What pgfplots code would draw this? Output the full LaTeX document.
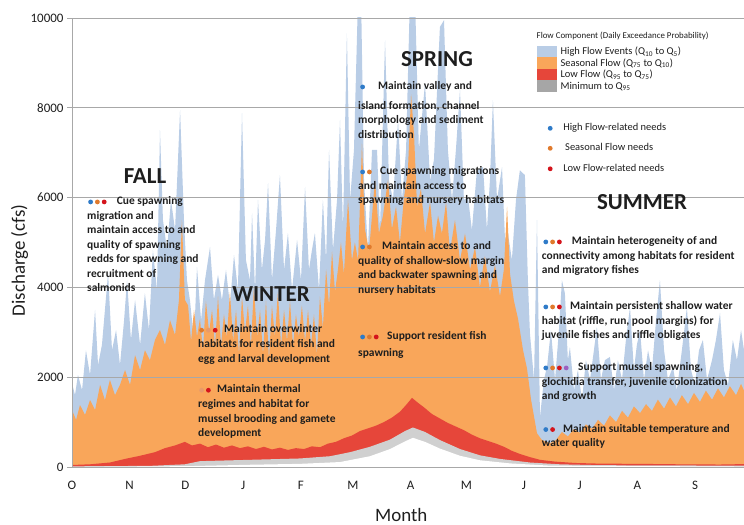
\documentclass[border=0pt]{standalone}
\usepackage{fontspec}
\setmainfont{Carlito}
\usepackage{pgfplots}
\pgfplotsset{compat=1.18}

\definecolor{hiflow}{HTML}{B9CDE6}
\definecolor{seas}{HTML}{F9A65A}
\definecolor{lowf}{HTML}{E6463A}
\definecolor{minq}{HTML}{D0D0D0}
\definecolor{minleg}{HTML}{A6A6A6}
\definecolor{gridc}{HTML}{A8A8A8}
\definecolor{txt}{HTML}{1E1E1E}
\definecolor{dotb}{HTML}{2F7BC8}
\definecolor{doto}{HTML}{E07A2C}
\definecolor{dotpe}{HTML}{E89A6A}
\definecolor{dotr}{HTML}{D4141C}
\definecolor{dotp}{HTML}{9C5FC0}

\newcommand{\dt}[1]{\tikz[baseline=-2.7bp]\fill[#1] (0,0) circle (2.4bp);\hspace{2bp}}
\newcommand{\annfont}{\fontsize{11.5}{14.6}\selectfont\bfseries}
\newcommand{\seasfont}{\fontsize{23}{26}\selectfont\bfseries}
\newcommand{\legfont}{\fontsize{10.5}{12}\selectfont}

\begin{document}
\begin{tikzpicture}
\begin{axis}[
    at={(72bp,58bp)}, anchor=south west,
    scale only axis, width=672bp, height=449bp,
    xmin=0, xmax=361.3, ymin=0, ymax=10000,
    axis on top,
    axis x line*=bottom, axis y line*=left,
    axis line style={-, draw=gridc, line width=0.8bp},
    ymajorgrids, grid style={draw=gridc, line width=0.7bp},
    ytick={0,2000,4000,6000,8000,10000},
    xtick={0,31,61,92,123,151,182,212,243,273,304,335},
    xticklabels={O,N,D,J,F,M,A,M,J,J,A,S},
    tick align=outside, major tick length=5bp,
    y tick style={draw=gridc, line width=0.7bp},
    x tick style={draw=none},
    tick label style={font=\fontsize{13}{15}\selectfont, text=txt},
    xticklabel style={yshift=-6bp},
    scaled y ticks=false,
    /pgf/number format/assume math mode=true,
    /pgf/number format/set thousands separator={},
    xlabel={Month}, ylabel={Discharge (cfs)},
    label style={font=\fontsize{19}{22}\selectfont, text=txt},
    xlabel style={at={(axis description cs:0.49,-0.106)}, anchor=center},
    ylabel style={at={(axis description cs:-0.078,0.46)}, anchor=center},
    legend style={at={(axis description cs:0.6912,0.939)}, anchor=north west,
        draw=none, fill=none, inner sep=0pt, row sep=0pt,
        font=\legfont, text=txt, nodes={inner sep=0.4bp},
        /tikz/every odd column/.append style={column sep=3.5bp}},
    legend image code/.code={\fill[#1,draw=none] (0bp,-5.8bp) rectangle (20bp,5.8bp);},
    legend cell align=left,
]
% High flow events (Q5)
\addplot[fill=hiflow, draw=none, forget plot] coordinates {
(0,1870) (1.6,1600) (3.2,2050) (5.4,1710) (7.5,2600) (9.7,2050) (12.4,3500) (14.0,2270)
(16.1,2720) (19.4,4320) (21.5,2600) (23.7,3050) (25.8,2270) (28.0,3270) (29.6,4160) (31.7,2830)
(33.9,3720) (36.6,2720) (39.2,3870) (41.4,3050) (43.5,4830) (45.7,3940) (47.3,7500) (48.9,5500)
(51.1,4830) (53.2,5950) (55.4,5280) (58.1,7950) (60.2,5500) (61.8,4160) (63.4,3720) (65.6,2830)
(67.2,4450) (69.4,3270) (71.5,4160) (74.2,4900) (76.3,3720) (78.5,4280) (80.6,3720) (82.8,4390)
(84.9,3610) (87.1,4720) (89.2,3940) (91.4,7880) (93.5,4610) (95.7,4160) (96.8,5650) (98.4,3940)
(100.0,5950) (102.1,4390) (103.8,5060) (105.4,6320) (107.5,4160) (109.7,5280) (111.8,6500) (114.0,4390)
(116.1,5210) (118.3,3940) (121.0,5060) (123.1,4160) (125.3,6240) (127.4,4390) (129.0,4830) (130.6,5210)
(132.8,3940) (134.9,5950) (136.6,4610) (138.2,7060) (140.3,4830) (142.5,5950) (144.1,7730) (145.7,5280)
(147.8,9660) (149.5,5950) (151.6,7060) (153.8,10500) (155.4,10500) (157.0,6390) (159.1,4830) (161.3,7060)
(164.0,7060) (165.6,5280) (168.3,9500) (170.4,6390) (172.6,5950) (175.3,7730) (177.4,5950) (179.6,7060)
(181.7,10500) (184.4,10500) (186.5,7060) (189.8,8550) (192.5,6390) (194.6,6840) (197.8,9800) (200.0,9950)
(202.1,7060) (204.3,5950) (206.4,7060) (208.6,8400) (210.7,5950) (212.9,6010) (215.0,5280) (217.7,6610)
(221.0,6680) (223.1,5280) (224.7,6390) (226.3,8170) (228.5,5950) (231.2,6680) (232.8,5060) (234.4,5210)
(236.5,4610) (238.7,5950) (240.8,6610) (243.5,6500) (245.1,4160) (246.2,2980) (248.4,1940) (250.0,5500)
(251.6,1110) (253.7,1940) (255.4,2230) (257.5,3050) (259.7,1940) (261.8,3050) (263.4,4160) (265.0,3870)
(266.6,2380) (267.7,2670) (269.9,1710) (272.0,2160) (274.2,1490) (276.3,2380) (278.5,1940) (280.6,2600)
(282.2,3120) (284.4,1940) (286.5,2380) (289.2,2450) (291.4,1710) (293.5,2380) (295.7,1940) (297.8,2830)
(300.0,3560) (302.1,2160) (303.7,2720) (305.4,3050) (307.5,1940) (309.7,2600) (311.8,2160) (314.0,3270)
(316.1,4160) (318.3,2600) (320.4,1940) (323.1,2230) (325.2,1710) (327.9,2600) (330.6,3560) (332.8,2160)
(334.9,1830) (337.1,2600) (339.2,2830) (341.4,1940) (344.1,2380) (346.2,2830) (348.4,3430) (350.5,2160)
(352.7,1830) (355.3,2830) (357.5,2380) (359.7,3050) (361.3,2600)
} \closedcycle;
% Seasonal flow (Q10)
\addplot[fill=seas, draw=none, forget plot] coordinates {
(0,1270) (2.2,1050) (4.3,1380) (7.0,1160) (9.7,1490) (12.4,1270) (15.1,1830) (17.7,1490)
(20.4,1940) (23.1,1600) (25.8,1830) (28.5,2160) (31.2,1830) (33.9,2490) (36.6,2160) (39.2,2600)
(41.9,2380) (44.6,2830) (47.3,3050) (50.0,2720) (52.7,3270) (55.4,2940) (57.5,3720) (59.1,5500)
(60.7,3720) (62.4,3600) (64.0,2800) (65.6,3500) (67.2,2900) (68.8,3300) (70.4,2600) (72.0,3700)
(73.7,3000) (75.3,3500) (76.9,2700) (78.5,3800) (80.1,2700) (81.7,3400) (83.3,2900) (84.9,3900)
(86.6,2800) (88.2,3500) (89.8,2500) (91.4,3800) (93.0,3000) (94.6,3600) (96.2,2700) (97.8,4000)
(99.5,2900) (101.1,3500) (102.7,2500) (104.3,3700) (105.9,2400) (107.5,3600) (109.1,2900) (110.7,3900)
(112.4,2700) (114.0,3500) (115.6,2800) (117.2,3700) (118.8,2700) (120.4,3400) (122.0,2900) (123.6,3600)
(125.3,2800) (126.9,3500) (128.5,2700) (130.1,3400) (131.7,2500) (133.3,3800) (134.9,3100) (136.6,4400)
(138.2,3600) (139.8,4800) (141.4,3900) (143.0,4400) (144.6,5000) (146.2,4300) (148.4,5950) (150.5,4600)
(152.1,5000) (153.8,4600) (155.9,7200) (157.5,5300) (159.7,4800) (162.9,6400) (165.0,5200) (167.2,5600)
(169.9,6400) (172.0,5300) (174.2,5800) (176.3,5000) (178.5,6000) (180.6,6600) (182.3,8300) (183.9,7400)
(185.5,5800) (187.6,6200) (189.8,5200) (192.5,5900) (194.6,5000) (196.8,5600) (198.9,5200) (201.1,5900)
(203.2,4800) (205.9,5500) (208.6,4600) (211.3,5200) (214.0,4400) (216.7,4900) (219.3,4000) (222.0,4700)
(224.7,3900) (227.4,4500) (230.1,3800) (232.2,4400) (233.9,5800) (235.5,4300) (237.6,3700) (239.8,3300)
(242.5,2600) (244.6,2200) (246.8,1500) (250.0,750) (252.7,600) (257.0,530) (260.2,600) (263.4,780)
(266.6,680) (269.9,850) (273.1,760) (276.3,950) (279.6,850) (282.8,1050) (286.0,920) (289.2,1150)
(292.5,1000) (295.7,1250) (298.9,1100) (302.1,1350) (305.4,1200) (308.6,1400) (311.8,1250) (315.0,1500)
(318.3,1300) (321.5,1550) (324.7,1350) (327.9,1600) (331.2,1400) (334.4,1650) (337.6,1450) (340.8,1700)
(344.1,1500) (347.3,1750) (350.5,1550) (353.7,1800) (357.0,1600) (359.7,1850) (361.3,1700)
} \closedcycle;
% Low flow (Q75)
\addplot[fill=lowf, draw=none, forget plot] coordinates {
(0,45) (9.7,60) (20.4,100) (28.5,180) (36.6,250) (44.6,330) (50.0,420) (55.4,480)
(60.7,560) (64.5,480) (68.8,520) (73.1,440) (77.4,500) (81.7,430) (86.0,480) (90.3,420)
(94.6,460) (98.9,400) (103.2,450) (107.5,390) (111.8,430) (116.1,380) (120.4,420) (124.7,400)
(129.0,460) (133.3,440) (137.6,520) (141.9,560) (146.2,640) (150.5,700) (154.8,800) (159.1,860)
(163.4,920) (167.7,1000) (172.0,1100) (176.3,1230) (179.6,1380) (182.8,1540) (186.0,1430) (189.2,1330)
(193.5,1180) (197.8,1080) (202.1,980) (206.4,900) (210.7,820) (215.0,720) (219.3,640) (223.6,580)
(228.0,520) (232.2,450) (236.5,360) (240.8,290) (246.2,220) (251.6,160) (259.7,120) (270.4,90)
(283.9,75) (305.4,70) (326.9,60) (348.4,55) (361.3,65)
} \closedcycle;
% Minimum to Q95
\addplot[fill=minq, draw=none, forget plot] coordinates {
(0,15) (41.9,25) (60.7,60) (68.8,130) (95.7,160) (122.6,190) (138.7,240) (149.5,330)
(160.2,450) (171.0,610) (179.0,800) (183.3,880) (189.8,780) (197.8,600) (208.6,400) (219.3,260)
(230.1,180) (246.2,100) (262.3,60) (283.9,40) (361.3,30)
} \closedcycle;
% below minimum
\addplot[fill=white, draw=none, forget plot] coordinates {
(0,0) (63.4,20) (95.7,50) (122.6,70) (144.1,110) (160.2,240) (171.0,400) (179.0,570)
(183.3,650) (189.8,560) (197.8,410) (208.6,250) (219.3,150) (235.5,80) (257.0,30) (361.3,10)
} \closedcycle;

\addlegendimage{fill=hiflow}
\addlegendentry{High Flow Events (Q\textsubscript{10} to Q\textsubscript{5})}
\addlegendimage{fill=seas}
\addlegendentry{Seasonal Flow (Q\textsubscript{75} to Q\textsubscript{10})}
\addlegendimage{fill=lowf}
\addlegendentry{Low Flow (Q\textsubscript{95} to Q\textsubscript{75})}
\addlegendimage{fill=minleg}
\addlegendentry{Minimum to Q\textsubscript{95}}
\end{axis}

\begin{scope}[x=1bp,y=1bp]
% legend title and needs key
\node[anchor=west, inner sep=0pt, font=\fontsize{8.9}{10}\selectfont, text=txt] at (536.5,489.3)
  {Flow Component (Daily Exceedance Probability)};
\node[anchor=base west, inner sep=0pt, font=\legfont, text=txt] at (547.6,394)
  {\makebox[15.5bp][l]{\dt{dotb}}High Flow-related needs};
\node[anchor=base west, inner sep=0pt, font=\legfont, text=txt] at (547.6,374)
  {\makebox[17.4bp][l]{\dt{doto}}Seasonal Flow needs};
\node[anchor=base west, inner sep=0pt, font=\legfont, text=txt] at (547.6,353.5)
  {\makebox[15.5bp][l]{\dt{dotr}}Low Flow-related needs};

% seasons
\node[font=\seasfont, text=txt] at (145,349) {FALL};
\node[font=\seasfont, text=txt] at (271,230.5) {WINTER};
\node[font=\seasfont, text=txt] at (437,465.5) {SPRING};
\node[font=\seasfont, text=txt] at (642,322.5) {SUMMER};

% flow needs
\tikzset{ann/.style={anchor=north west, inner sep=0pt, align=left, font=\annfont, text=txt}}
\node[ann] at (87,328.6) {\makebox[29.7bp][l]{\hspace{1bp}\dt{dotb}\dt{doto}\dt{dotr}}Cue spawning\\
  migration and\\maintain access to and\\quality of spawning\\redds for spawning and\\recruitment of\\salmonids};
\node[ann] at (198,200.3) {\makebox[26bp][l]{\hspace{1bp}\dt{doto}\dt{dotpe}\dt{dotr}}Maintain overwinter\\
  habitats for resident fish and\\egg and larval development};
\node[ann] at (198,140.3) {\makebox[19bp][l]{\hspace{1bp}\dt{dotpe}\dt{dotr}}Maintain thermal\\
  regimes and habitat for\\mussel brooding and gamete\\development};
\node[ann] at (358,443.6) {\makebox[20bp][l]{\hspace{2bp}\dt{dotb}}Maintain valley and\\[5bp]
  island formation, channel\\morphology and sediment\\distribution};
\node[ann] at (358,358.6) {\makebox[22bp][l]{\hspace{2bp}\dt{dotb}\dt{doto}}Cue spawning migrations\\
  and maintain access to\\spawning and nursery habitats};
\node[ann] at (358,283.6) {\makebox[24bp][l]{\hspace{2bp}\dt{dotb}\dt{doto}}Maintain access to and\\
  quality of shallow-slow margin\\and backwater spawning and\\nursery habitats};
\node[ann] at (358,193.6) {\makebox[29bp][l]{\hspace{2bp}\dt{dotb}\dt{doto}\dt{dotr}}Support resident fish\\[2bp]
  spawning};
\node[ann] at (541.7,288.6) {\makebox[30bp][l]{\hspace{1.5bp}\dt{dotb}\dt{doto}\dt{dotr}}Maintain heterogeneity of and\\
  connectivity among habitats for resident\\and migratory fishes};
\node[ann] at (541.7,223.6) {\makebox[28.3bp][l]{\hspace{1.5bp}\dt{dotb}\dt{doto}\dt{dotr}}Maintain persistent shallow water\\
  habitat (riffle, run, pool margins) for\\juvenile fishes and riffle obligates};
\node[ann] at (541.7,162.6) {\makebox[36.3bp][l]{\hspace{1.5bp}\dt{dotb}\dt{doto}\dt{dotr}\dt{dotp}}Support mussel spawning,\\
  glochidia transfer, juvenile colonization\\and growth};
\node[ann] at (541.7,101) {\makebox[21.3bp][l]{\hspace{1.5bp}\dt{dotb}\dt{dotr}}Maintain suitable temperature and\\
  water quality};

\pgfresetboundingbox
\path[use as bounding box] (0,0) rectangle (744,525);
\end{scope}
\end{tikzpicture}
\end{document}
